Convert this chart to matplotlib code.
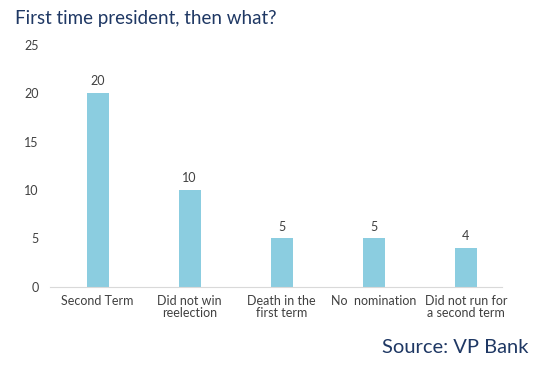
import matplotlib.pyplot as plt

categories = ["Second Term", "Did not win\nreelection", "Death in the\nfirst term",
              "No  nomination", "Did not run for\na second term"]
values = [20, 10, 5, 5, 4]
yticks = [0, 5, 10, 15, 20, 25]

plt.rcParams['font.family'] = ['Lato', 'DejaVu Sans']

fig = plt.figure(figsize=(5.35, 3.77), dpi=100)
ax = fig.add_axes([0.093, 0.239, 0.845, 0.642])

x = range(len(categories))
bars = ax.bar(x, values, width=0.24, color='#8BCDE0')
for xi, v in zip(x, values):
    ax.text(xi, v + 0.6, str(v), ha='center', va='bottom', fontsize=9, color='#404040')

ax.set_xlim(-0.52, 4.39)
ax.set_ylim(0, 25)
ax.set_yticks(yticks)
ax.set_xticks(list(x))
ax.set_xticklabels(categories, fontsize=9, color='#404040', linespacing=1.0)
ax.tick_params(axis='y', length=0, labelsize=9, labelcolor='#404040', pad=8)
ax.tick_params(axis='x', length=0, pad=6)
for s in ['top', 'right', 'left']:
    ax.spines[s].set_visible(False)
ax.spines['bottom'].set_color('#D9D9D9')

fig.text(0.028, 0.952, "First time president, then what?", fontsize=13.5,
         color='#1F3864', ha='left', va='center')
fig.text(0.987, 0.077, "Source: VP Bank", fontsize=14.5,
         color='#1F3864', ha='right', va='center')

fig.savefig('out.png', dpi=100)
